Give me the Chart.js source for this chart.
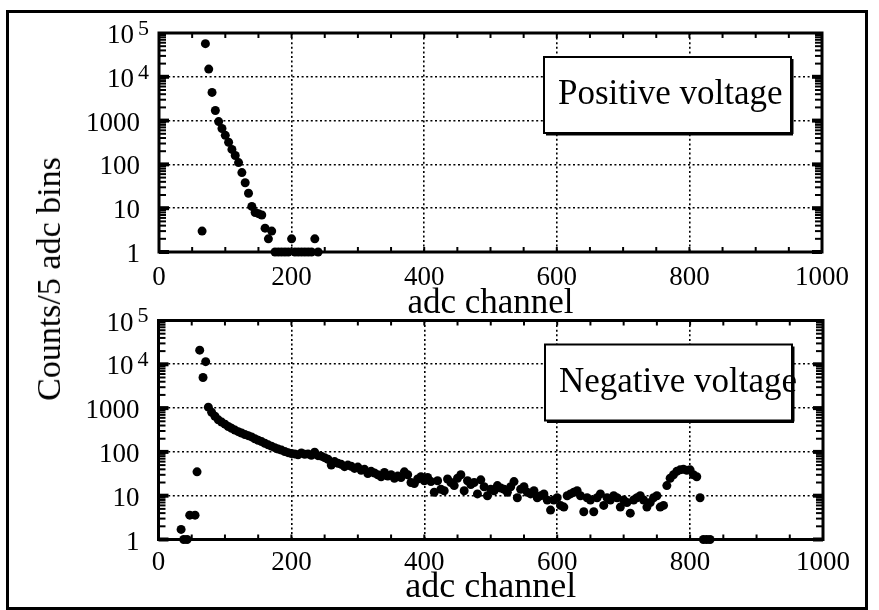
<!DOCTYPE html>
<html>
<head>
<meta charset="utf-8">
<script src="https://cdn.jsdelivr.net/npm/chart.js@4.4.1/dist/chart.umd.min.js"></script>
<style>
  html, body { margin: 0; padding: 0; background: #fff; }
  #page { position: relative; width: 879px; height: 610px; overflow: hidden; background: #fff; }
  #frame { position: absolute; left: 6px; top: 10px; width: 856px; height: 594px; border: 3px solid #000; }
  canvas { position: absolute; left: 0; }
  #posChart { top: 0; }
  #negChart { top: 290px; }
  #ytitle {
    position: absolute; left: 49px; top: 279px;
    transform: translate(-50%, -50%) rotate(-90deg);
    white-space: nowrap; font: 34px "Liberation Serif", serif; line-height: 1; color: #000;
  }
</style>
</head>
<body>
<div id="page">
  <div id="frame"></div>
  <canvas id="posChart" width="879" height="330"></canvas>
  <canvas id="negChart" width="879" height="325"></canvas>
  <div id="ytitle">Counts/5 adc bins</div>
</div>
<script>
// Pulse-height spectra, counts per 5-channel bin
const xTickValues = [0, 200, 400, 600, 800, 1000];
const yTickValues = [1, 10, 100, 1000, 10000, 100000];
// [mantissa text, exponent text]
const yTickLabels = [['1', ''], ['10', ''], ['100', ''], ['1000', ''], ['10', '4'], ['10', '5']];

const posChannel = [65, 70, 75, 80, 85, 90, 95, 100, 105, 110, 115, 120, 125, 130, 135,
  140, 145, 150, 155, 160, 165, 170, 175, 180, 185, 190, 195, 200, 205, 210, 215,
  220, 225, 230, 235, 240];
const posCounts = [3, 57000, 15000, 4400, 1700, 950, 660, 460, 320, 220, 160, 110, 65, 38, 22,
  11, 8, 7.5, 7, 3.5, 2, 3, 1, 1, 1, 1, 1, 2, 1, 1, 1,
  1, 1, 1, 2, 1];

const negChannel = [34, 38, 43, 47, 55, 58, 62, 67, 71, 75,
  80, 85, 90, 95, 100, 105, 110, 115, 120, 125, 130, 135, 140, 145, 150, 155, 160, 165, 170, 175,
  180, 185, 190, 195, 200, 205, 210, 215, 220, 225, 230, 235, 240, 245, 250, 255, 260, 265, 270, 275,
  280, 285, 290, 295, 300, 305, 310, 315, 320, 325, 330, 335, 340, 345, 350, 355, 360, 365, 370, 375,
  380, 385, 390, 395, 400, 405, 410, 415, 420, 425, 430, 435, 440, 445, 450, 455, 460, 465, 470, 475,
  480, 485, 490, 495, 500, 505, 510, 515, 520, 525, 530, 535, 540, 545, 550, 555, 560, 565, 570, 575,
  580, 585, 590, 595, 600, 605, 610, 615, 620, 625, 630, 635, 640, 645, 650, 655, 660, 665, 670, 675,
  680, 685, 690, 695, 700, 705, 710, 715, 720, 725, 730, 735, 740, 745, 750, 755, 760, 765, 770, 775,
  780, 785, 790, 795, 800, 805, 810, 815, 820, 825, 830];
const negCounts = [1.7, 1, 1, 3.6, 3.6, 35, 21000, 5000, 11500, 1050,
  800, 650, 540, 480, 430, 380, 345, 315, 290, 270, 250, 235, 220, 200, 185, 172, 158, 145, 135, 125,
  116, 110, 102, 96, 92, 90, 86, 95, 88, 90, 84, 98, 82, 80, 74, 68, 50, 60, 55, 52,
  46, 50, 47, 42, 45, 38, 40, 32, 36, 33, 30, 27, 34, 28, 30, 25, 28, 26, 35, 30,
  20, 19, 24, 27, 22, 26, 21, 12, 22, 14, 13, 24, 20, 17, 25, 30, 13, 22, 18, 20,
  11, 23, 16, 10, 14, 13, 17, 15, 14, 12, 16, 21, 9, 14, 16, 12, 11, 13, 9, 10,
  11, 8, 4.7, 8, 9, 6, 5.5, 10, 11, 12, 13, 10, 4.3, 9, 8, 4.3, 9, 11, 6, 9,
  8, 10, 9, 5.5, 8, 7, 4, 8, 9, 10, 8, 5.5, 7, 9, 10, 5.5, 6, 17, 25, 30,
  36, 39, 40, 38, 39, 30, 27, 9, 1, 1, 1];

const FONT = '"Liberation Serif", "Times New Roman", serif';
const minorStepX = 50;

function strokeLine(ctx, x1, y1, x2, y2) {
  ctx.beginPath(); ctx.moveTo(x1, y1); ctx.lineTo(x2, y2); ctx.stroke();
}

// Closed frame around the plot area with inward tick marks on all four sides
const frameTicks = {
  id: 'frameTicks',
  beforeDatasetsDraw(chart) {
    const { ctx, chartArea: a, scales: { x, y } } = chart;
    ctx.save();
    ctx.strokeStyle = '#000';
    ctx.lineWidth = 2;
    for (let v = x.min; v <= x.max; v += minorStepX) {
      const px = x.getPixelForValue(v);
      strokeLine(ctx, px, a.bottom, px, a.bottom - 5);
      strokeLine(ctx, px, a.top, px, a.top + 5);
    }
    for (let d = y.min; d < y.max; d *= 10) {
      for (let m = 1; m <= 9; m++) {
        const py = y.getPixelForValue(d * m);
        const major = m === 1;
        ctx.lineWidth = major ? 4 : 2;
        const len = major ? 10 : 7;
        strokeLine(ctx, a.left, py, a.left + len, py);
        strokeLine(ctx, a.right, py, a.right - len, py);
      }
    }
    ctx.lineWidth = 3;
    ctx.strokeRect(a.left, a.top, a.right - a.left, a.bottom - a.top);
    ctx.restore();
  }
};

// Decade labels on the log axis, powers of ten written with a raised exponent
const decadeLabels = {
  id: 'decadeLabels',
  afterDraw(chart) {
    const { ctx, chartArea: a, scales: { y } } = chart;
    ctx.save();
    ctx.fillStyle = '#000';
    ctx.textBaseline = 'middle';
    y.ticks.forEach(t => {
      const lab = yTickLabels[yTickValues.indexOf(t.value)];
      if (!lab) return;
      const py = y.getPixelForValue(t.value) + 3;
      ctx.font = '27px ' + FONT;
      ctx.textAlign = 'right';
      if (lab[1]) {
        ctx.fillText(lab[0], a.left - 25, py);
        ctx.font = '22px ' + FONT;
        ctx.textAlign = 'left';
        ctx.fillText(lab[1], a.left - 21, py - 7);
      } else {
        ctx.fillText(lab[0], a.left - 19, py);
      }
    });
    ctx.restore();
  }
};

// Boxed caption in the upper right of the plot area
const boxCaption = {
  id: 'boxCaption',
  afterDatasetsDraw(chart, args, opts) {
    const { ctx, chartArea: a } = chart;
    const w = 247, h = 76;
    const x0 = a.right - 31 - w, y0 = a.top + 24;
    ctx.save();
    ctx.fillStyle = '#fff';
    ctx.fillRect(x0, y0, w, h);
    ctx.fillStyle = '#000';
    ctx.font = '35px ' + FONT;
    ctx.textBaseline = 'alphabetic';
    ctx.fillText(opts.text, x0 + 14, y0 + 47);
    ctx.strokeStyle = '#000';
    ctx.lineWidth = 2;
    ctx.strokeRect(x0, y0, w, h);
    ctx.lineWidth = 3;
    strokeLine(ctx, x0 + w + 1, y0 + 2, x0 + w + 1, y0 + h + 1);
    strokeLine(ctx, x0 + 2, y0 + h + 1, x0 + w + 2, y0 + h + 1);
    ctx.restore();
  }
};

function makeChart(id, xs, ys, caption, geo) {
  return new Chart(document.getElementById(id), {
    type: 'scatter',
    data: {
      datasets: [{
        label: caption,
        data: xs.map((x, i) => ({ x, y: ys[i] })),
        backgroundColor: '#000',
        borderColor: '#000',
        pointRadius: 4.5,
        pointHoverRadius: 4.5,
        pointBorderWidth: 0,
        clip: false
      }]
    },
    options: {
      responsive: false,
      animation: false,
      devicePixelRatio: 1,
      events: [],
      layout: { padding: { left: 0, right: geo.right, top: geo.top, bottom: geo.bottom } },
      plugins: {
        legend: { display: false },
        tooltip: { enabled: false },
        boxCaption: { text: caption }
      },
      scales: {
        x: {
          type: 'linear', min: 0, max: 1000,
          afterBuildTicks: s => { s.ticks = xTickValues.map(v => ({ value: v })); },
          afterFit: s => { s.height = geo.xHeight; },
          ticks: {
            color: '#000', font: { family: FONT, size: 27 }, padding: geo.xPad,
            maxRotation: 0, autoSkip: false, callback: v => String(v)
          },
          grid: { color: '#000', lineWidth: 1.6, drawTicks: false },
          border: { display: false, dash: [2, 2.6] },
          title: {
            display: true, text: 'adc channel', color: '#000',
            font: { family: FONT, size: geo.titleSize }, padding: 0
          }
        },
        y: {
          type: 'logarithmic', min: 1, max: 100000,
          afterBuildTicks: s => { s.ticks = yTickValues.map(v => ({ value: v })); },
          afterFit: s => { s.width = geo.left; },
          ticks: { display: false },
          grid: { color: '#000', lineWidth: 1.6, drawTicks: false },
          border: { display: false, dash: [2, 2.6] }
        }
      }
    },
    plugins: [frameTicks, boxCaption, decadeLabels]
  });
}

makeChart('posChart', posChannel, posCounts, 'Positive voltage',
  { left: 159, right: 57, top: 33, bottom: 4.8, xHeight: 73.2, xPad: 10, titleSize: 35 });
makeChart('negChart', negChannel, negCounts, 'Negative voltage',
  { left: 158.5, right: 56, top: 30.5, bottom: 5.5, xHeight: 70, xPad: 7, titleSize: 36 });
</script>
</body>
</html>
